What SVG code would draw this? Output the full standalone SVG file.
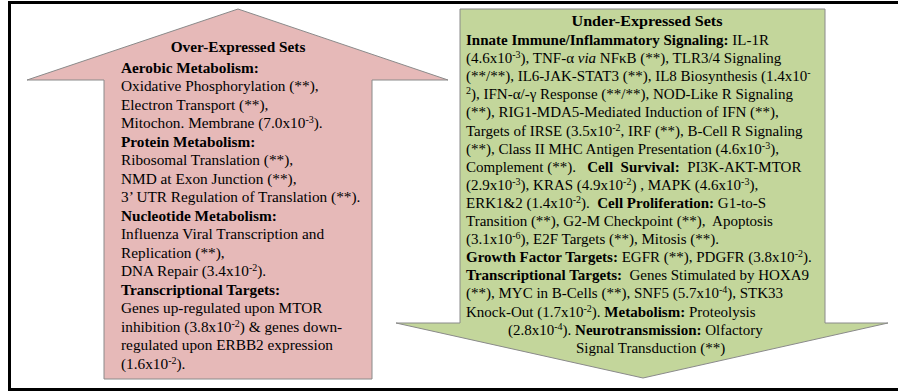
<svg xmlns="http://www.w3.org/2000/svg" width="898" height="392" viewBox="0 0 898 392">
<style>
.t{font-family:"Liberation Serif","Times New Roman",serif;font-size:15.3px;fill:#000}
.r{font-family:"Liberation Serif","Times New Roman",serif;font-size:15px;fill:#000}
.b{font-weight:bold}
.s{font-size:10px}
.up{fill:#E6B9B8;stroke:#8a8a8a;stroke-width:1}
.down{fill:#C3D69B;stroke:#8a8a8a;stroke-width:1}
</style>
<rect x="0" y="0" width="898" height="392" fill="#fff"/>
<rect x="9.5" y="2.5" width="900" height="387" fill="none" stroke="#000" stroke-width="3"/>
<g id="over-expressed">
<polygon class="up" points="238,9 448,80 372,80 372,379 104,379 104,80 27,80"/>
<text class="t b" x="238" y="51.5" text-anchor="middle" textLength="134.7" lengthAdjust="spacingAndGlyphs">Over-Expressed  Sets</text>
<text class="t b" x="121" y="72.8">Aerobic Metabolism:</text>
<text class="t" x="121" y="91.3">Oxidative Phosphorylation (**),</text>
<text class="t" x="121" y="109.8">Electron Transport (**),</text>
<text class="t" x="121" y="128.3">Mitochon. Membrane (7.0x10<tspan class="s" dy="-5">-3</tspan><tspan dy="5">).</tspan></text>
<text class="t b" x="121" y="146.8">Protein Metabolism:</text>
<text class="t" x="121" y="165.3">Ribosomal Translation (**),</text>
<text class="t" x="121" y="183.8">NMD at Exon Junction (**),</text>
<text class="t" x="121" y="202.3">3’ UTR Regulation of Translation (**).</text>
<text class="t b" x="121" y="220.8">Nucleotide Metabolism:</text>
<text class="t" x="121" y="239.3">Influenza Viral Transcription and</text>
<text class="t" x="121" y="257.8">Replication (**),</text>
<text class="t" x="121" y="276.3">DNA Repair (3.4x10<tspan class="s" dy="-5">-2</tspan><tspan dy="5">).</tspan></text>
<text class="t b" x="121" y="294.8">Transcriptional Targets:</text>
<text class="t" x="121" y="313.3">Genes up-regulated upon MTOR</text>
<text class="t" x="121" y="331.8">inhibition (3.8x10<tspan class="s" dy="-5">-2</tspan><tspan dy="5">) &amp; genes down-</tspan></text>
<text class="t" x="121" y="350.3">regulated upon ERBB2 expression</text>
<text class="t" x="121" y="368.8">(1.6x10<tspan class="s" dy="-5">-2</tspan><tspan dy="5">).</tspan></text>
</g>
<g id="under-expressed">
<polygon class="down" points="460,9 825,9 825,323 888,323 643,378 396,323 460,323"/>
<text class="r b" x="647" y="26" text-anchor="middle" textLength="151" lengthAdjust="spacingAndGlyphs">Under-Expressed  Sets</text>
<text class="r" x="466" y="45"><tspan class="b">Innate Immune/Inflammatory Signaling:</tspan> IL-1R</text>
<text class="r" x="466" y="63.1">(4.6x10<tspan class="s" dy="-5">-3</tspan><tspan dy="5">), TNF-α </tspan><tspan font-style="italic">via</tspan> NFκB (**), TLR3/4 Signaling</text>
<text class="r" x="466" y="81.2">(**/**),  IL6-JAK-STAT3 (**), IL8 Biosynthesis (1.4x10<tspan class="s" dy="-5">-</tspan></text>
<text class="r" x="466" y="99.3"><tspan class="s" dy="-5">2</tspan><tspan dy="5">), IFN-α/-γ Response (**/**), NOD-Like R Signaling</tspan></text>
<text class="r" x="466" y="117.4">(**), RIG1-MDA5-Mediated Induction of IFN (**),</text>
<text class="r" x="466" y="135.5">Targets of IRSE (3.5x10<tspan class="s" dy="-5">-2</tspan><tspan dy="5">, IRF (**),  B-Cell R Signaling</tspan></text>
<text class="r" x="466" y="153.6">(**), Class II MHC Antigen Presentation (4.6x10<tspan class="s" dy="-5">-3</tspan><tspan dy="5">),</tspan></text>
<text class="r" x="466" y="171.7" xml:space="preserve">Complement (**).   <tspan class="b">Cell  Survival:</tspan>  PI3K-AKT-MTOR</text>
<text class="r" x="466" y="189.8">(2.9x10<tspan class="s" dy="-5">-3</tspan><tspan dy="5">), KRAS (4.9x10</tspan><tspan class="s" dy="-5">-2</tspan><tspan dy="5">) , MAPK (4.6x10</tspan><tspan class="s" dy="-5">-3</tspan><tspan dy="5">),</tspan></text>
<text class="r" x="466" y="207.9" xml:space="preserve">ERK1&amp;2 (1.4x10<tspan class="s" dy="-5">-2</tspan><tspan dy="5">).  </tspan><tspan class="b">Cell Proliferation:</tspan> G1-to-S</text>
<text class="r" x="466" y="226" xml:space="preserve">Transition (**), G2-M Checkpoint (**),  Apoptosis</text>
<text class="r" x="466" y="244.1">(3.1x10<tspan class="s" dy="-5">-6</tspan><tspan dy="5">), E2F Targets (**), Mitosis (**).</tspan></text>
<text class="r" x="466" y="262.2"><tspan class="b">Growth Factor Targets:</tspan> EGFR (**), PDGFR (3.8x10<tspan class="s" dy="-5">-2</tspan><tspan dy="5">).</tspan></text>
<text class="r" x="466" y="280.3" xml:space="preserve"><tspan class="b">Transcriptional Targets:</tspan>  Genes Stimulated by HOXA9</text>
<text class="r" x="466" y="298.4">(**), MYC in B-Cells (**), SNF5 (5.7x10<tspan class="s" dy="-5">-4</tspan><tspan dy="5">), STK33</tspan></text>
<text class="r" x="466" y="316.5">Knock-Out (1.7x10<tspan class="s" dy="-5">-2</tspan><tspan dy="5">). </tspan><tspan class="b">Metabolism:</tspan> Proteolysis</text>
<text class="r" x="508" y="334.6">(2.8x10<tspan class="s" dy="-5">-4</tspan><tspan dy="5">). </tspan><tspan class="b">Neurotransmission:</tspan> Olfactory</text>
<text class="r" x="576" y="352.7">Signal Transduction (**)</text>
</g>
<g id="connectors"/>
</svg>
